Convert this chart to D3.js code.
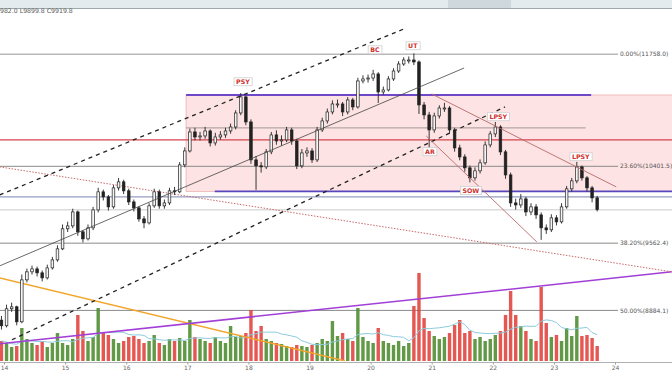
<!DOCTYPE html>
<html lang='en'>
  <head>
    <style type='text/css'>
      body {margin: 0; background-color: #fff;}
      #chart {width: 672px; height: 372px; overflow: hidden;}
      text {font-family: 'DejaVu Sans', sans-serif;}
    </style>
  </head>
  <body>
    <div id='chart'><svg width='672' height='372'></svg></div>

    <script src='https://cdn.jsdelivr.net/npm/d3@7'></script>
    <script type='text/javascript'>
      // 2h candles, first one opens on the 13th at 23:00
      var firstCandle = 13 + 23 / 24;
      var candleStep = 2 / 24;
      var firstOpen = 8790;

      var closes = [
        8736, 8900, 8919, 8774, 9186, 9267, 9297, 9257, 9206, 9307,
        9389, 9503, 9714, 9745, 9895, 9682, 9608, 9724, 9917, 10115,
        10059, 9950, 10159, 10226, 10126, 10004, 9939, 9820, 9777, 9961,
        10115, 9961, 9993, 10126, 10115, 10418, 10578, 10800, 10741, 10753,
        10812, 10671, 10741, 10765, 10812, 10859, 11027, 11222, 10919, 10475,
        10407, 10395, 10567, 10765, 10694, 10706, 10824, 10694, 10407, 10555,
        10578, 10475, 10824, 10931, 11039, 11136, 11136, 11039, 11185, 11100,
        11420, 11445, 11457, 11508, 11283, 11308, 11445, 11545, 11634, 11685,
        11685, 11660, 11124, 11003, 10824, 10991, 11087, 11087, 10824, 10613,
        10509, 10384, 10271, 10350, 10441, 10648, 10777, 10859, 10567, 10304,
        9993, 9971, 10037, 9895, 9950, 9863, 9724, 9703, 9831, 9788,
        9950, 10148, 10237, 10395, 10271, 10159, 10048, 9920
      ];
      var highs = [
        8830, 8940, 8960, 8930, 9240, 9300, 9330, 9320, 9280, 9340,
        9420, 9540, 9760, 9790, 9930, 9910, 9700, 9760, 9950, 10160,
        10140, 10080, 10190, 10270, 10250, 10150, 10030, 9960, 9850, 9990,
        10150, 10140, 10030, 10160, 10170, 10450, 10620, 10840, 10850, 10800,
        10860, 10830, 10790, 10810, 10850, 10900, 11060, 11270, 11240, 10950,
        10520, 10450, 10600, 10800, 10820, 10760, 10860, 10850, 10720, 10600,
        10620, 10610, 10860, 10970, 11080, 11180, 11190, 11160, 11220, 11210,
        11460, 11490, 11500, 11560, 11530, 11350, 11480, 11580, 11670, 11720,
        11730, 11770, 11680, 11160, 11040, 11030, 11120, 11150, 11110, 10850,
        10650, 10540, 10410, 10390, 10480, 10690, 10810, 10919, 10880, 10590,
        10330, 10040, 10090, 10060, 9990, 9980, 9890, 9760, 9870, 9860,
        9990, 10180, 10270, 10452, 10410, 10290, 10180, 10070
      ];
      var lows = [
        8700, 8720, 8870, 8740, 8760, 9160, 9240, 9220, 9170, 9190,
        9290, 9370, 9490, 9680, 9720, 9640, 9570, 9590, 9700, 9890,
        10020, 9910, 9930, 10130, 10090, 9970, 9900, 9790, 9720, 9760,
        9940, 9930, 9930, 9970, 10080, 10100, 10390, 10560, 10700, 10700,
        10720, 10630, 10640, 10710, 10730, 10780, 10830, 11000, 10880, 10430,
        10137, 10330, 10370, 10540, 10650, 10640, 10680, 10650, 10370, 10380,
        10510, 10440, 10450, 10800, 10900, 11010, 11090, 10990, 11010, 11060,
        11080, 11390, 11400, 11420, 11148, 11250, 11290, 11420, 11520, 11610,
        11640, 11620, 11015, 10950, 10613, 10790, 10960, 11040, 10780, 10570,
        10470, 10340, 10220, 10240, 10320, 10420, 10620, 10740, 10530, 10260,
        9950, 9920, 9940, 9850, 9860, 9820, 9597, 9660, 9680, 9750,
        9770, 9930, 10120, 10210, 10240, 10120, 10000, 9900
      ];
      var volumes = [
        1000, 900, 700, 750, 1650, 1100, 900, 800, 1000, 700,
        900, 1400, 900, 800, 1100, 2300, 1500, 1000, 1200, 2650,
        1400, 1300, 1100, 900, 1000, 1200, 1250, 1100, 900, 1000,
        1300, 900, 800, 1100, 1000, 1150, 1000, 2050, 1200, 1100,
        1000, 900, 1200, 1000, 900, 1750, 1200, 1250, 1400, 2550,
        1500, 1750, 1100, 1000, 900, 850, 750, 700, 800, 750,
        700, 800, 900, 1100, 1000, 2000, 1250, 1400, 1100, 1000,
        2650, 1200, 1000, 900, 1650, 1000, 900, 800, 1000, 750,
        900, 2750, 4400, 2150, 1500, 1250, 1100, 1200, 1400, 1800,
        2050, 1400, 1500, 1100, 1200, 1000, 1100, 1300, 1500, 2300,
        3500, 2300, 1750, 1500, 1100, 1000, 3700, 1900, 1200, 1300,
        1000, 1650, 1250, 2250, 1250, 1300, 1150, 750
      ];

      var dayTicks = [14, 15, 16, 17, 18, 19, 20, 21, 22, 23, 24];
      var fibNames = ['0.00%', '23.60%', '38.20%', '50.00%'];
      var fibPrices = [11758.0, 10401.5, 9562.4, 8884.1];

      // horizontal levels
      var rangeTop = 11246, rangeBottom = 10120, rangeMid = 10848;
      var redLevel = 10706, blueLevel = 10059, lastPrice = 9919.8;

      // drawn lines, [day, price] end points
      var upperDash = [[13.93, 10081], [20.58, 12101]];
      var lowerDash = [[14.13, 8603], [22.20, 11100]];
      var supportLine = [[13.93, 9328], [21.53, 11583]];
      var redDotted = [[13.93, 10395], [24.93, 9267]];
      var purpleTrend = [[13.93, 8565], [24.93, 9267]];
      var orangeTrend = [[13.93, 9206], [19.58, 8406]];
      var lpsyLine = [[21.00, 11259], [24.02, 10170]];
      var sowLine = [[20.91, 10753], [22.72, 9576]];

      var waveLabels = ['PSY', 'BC', 'UT', 'LPSY', 'AR', 'SOW', 'LPSY'];
      var waveDays = [17.91, 20.07, 20.69, 22.09, 20.97, 21.64, 23.44];
      var wavePrices = [11407, 11813, 11865, 10979, 10567, 10126, 10509];

      var width = 672, height = 372;
      var svg = d3.select('#chart svg');

      var x = d3.scaleLinear().domain([14, 24]).range([4, 615]);
      var y = d3.scaleLog().domain([8884.1, 11758]).range([310.4, 54.3]);
      var vy = d3.scaleLinear().domain([0, 5000]).range([361, 261]);

      var candles = closes.map(function(c, i) {
        return {t: firstCandle + i * candleStep, o: i ? closes[i - 1] : firstOpen,
                h: highs[i], l: lows[i], c: c, v: volumes[i]};
      });

      svg.append('defs').append('clipPath').attr('id', 'plot')
        .append('rect').attr('x', 0).attr('y', 9).attr('width', width).attr('height', 352);

      // header strip
      svg.append('rect').attr('width', width).attr('height', 8).style('fill', '#e3ebee');
      svg.append('rect').attr('x', 448).attr('width', 63).attr('height', 8).style('fill', '#cfd8dc');
      svg.append('line').attr('x1', 0).attr('x2', width).attr('y1', 8.5).attr('y2', 8.5)
        .style('stroke', '#9ea8ac');
      svg.append('text').attr('x', 0).attr('y', 12.8)
        .attr('font-size', 6.2).style('fill', '#555')
        .text('982.0 L9899.8 C9919.8');

      var g = svg.append('g').attr('clip-path', 'url(#plot)');

      // trading range box
      g.append('rect')
        .attr('x', x(16.98)).attr('y', y(rangeTop))
        .attr('width', width - x(16.98) + 5).attr('height', y(rangeBottom) - y(rangeTop))
        .style('fill', '#fde3e3').style('stroke', '#eeb0b0').style('stroke-width', 0.8);

      function hline(price, d0, d1, color, w) {
        g.append('line')
          .attr('x1', d0 == null ? 0 : x(d0)).attr('x2', d1 == null ? width : x(d1))
          .attr('y1', y(price)).attr('y2', y(price))
          .style('stroke', color).style('stroke-width', w);
      }

      hline(lastPrice, null, null, '#dcdcdc', 1.5);
      hline(blueLevel, null, null, '#6c76a6', 0.9);
      hline(redLevel, null, null, '#d4454c', 1.2);
      hline(rangeMid, 16.98, 23.52, '#9a9090', 0.9);

      // fib levels
      fibPrices.forEach(function(p, i) {
        hline(p, null, 24.05, i == 0 ? '#b8b8b8' : '#8a8a8a', i == 0 ? 1.4 : 1);
        g.append('text')
          .attr('x', x(24.08)).attr('y', y(p)).attr('dy', '0.35em')
          .attr('font-size', 6).style('fill', '#555')
          .text(fibNames[i] + '(' + p.toFixed(1) + ')');
      });

      hline(rangeTop, 16.98, 23.61, '#6f48c9', 1.8);
      hline(rangeBottom, 17.45, null, '#5846bd', 1.8);

      // volume
      g.selectAll('rect.vol').data(candles).enter().append('rect')
        .attr('class', 'vol')
        .attr('x', function(d) { return x(d.t) - 1.7; })
        .attr('y', function(d) { return vy(d.v); })
        .attr('width', 3.4)
        .attr('height', function(d) { return vy(0) - vy(d.v); })
        .style('fill', function(d) { return d.c >= d.o ? '#4b8b2c' : '#e0403a'; })
        .style('opacity', 0.88);

      var ma = candles.map(function(d, i) {
        var s = candles.slice(Math.max(0, i - 9), i + 1);
        return {t: d.t, v: d3.mean(s, function(e) { return e.v; })};
      });
      g.append('path').datum(ma)
        .attr('d', d3.line().x(function(d) { return x(d.t); }).y(function(d) { return vy(d.v); }))
        .style('fill', 'none').style('stroke', '#8ccbdc').style('stroke-width', 1);

      function segment(pts, color, w, dash) {
        g.append('line')
          .attr('x1', x(pts[0][0])).attr('y1', y(pts[0][1]))
          .attr('x2', x(pts[1][0])).attr('y2', y(pts[1][1]))
          .style('stroke', color).style('stroke-width', w)
          .style('stroke-dasharray', dash || null);
      }

      segment(orangeTrend, '#f2a52a', 1.5);
      segment(purpleTrend, '#a23fd6', 1.5);
      segment(redDotted, '#c86a6a', 1, '1.5,1.5');

      // candles
      var c = g.selectAll('g.candle').data(candles).enter().append('g').attr('class', 'candle');
      c.append('line')
        .attr('x1', function(d) { return x(d.t); })
        .attr('x2', function(d) { return x(d.t); })
        .attr('y1', function(d) { return y(d.h); })
        .attr('y2', function(d) { return y(d.l); })
        .style('stroke', '#222').style('stroke-width', 0.9);
      c.append('rect')
        .attr('x', function(d) { return x(d.t) - 1.3; })
        .attr('y', function(d) { return y(Math.max(d.o, d.c)); })
        .attr('width', 2.6)
        .attr('height', function(d) { return Math.max(1, Math.abs(y(d.o) - y(d.c))); })
        .style('fill', function(d) { return d.c >= d.o ? '#f4f4f4' : '#222'; })
        .style('stroke', '#222').style('stroke-width', 0.7);

      segment(upperDash, '#222', 1.3, '4,4');
      segment(lowerDash, '#222', 1.3, '4,4');
      segment(supportLine, '#444', 0.8);
      segment(lpsyLine, '#b86a6a', 0.9);
      segment(sowLine, '#b86a6a', 0.9);

      // wyckoff labels
      var lab = g.selectAll('g.lab').data(waveLabels).enter().append('g').attr('class', 'lab')
        .attr('transform', function(d, i) {
          return 'translate(' + x(waveDays[i]) + ',' + y(wavePrices[i]) + ')';
        });
      lab.append('text')
        .attr('text-anchor', 'middle').attr('dy', '0.36em')
        .attr('font-size', 6.3).attr('font-weight', 'bold')
        .style('fill', '#d0302c')
        .text(function(d) { return d; });
      lab.insert('rect', 'text')
        .each(function() {
          var b = this.parentNode.querySelector('text').getBBox();
          d3.select(this).attr('x', b.x - 2).attr('y', b.y - 0.5)
            .attr('width', b.width + 4).attr('height', b.height + 1);
        })
        .style('fill', '#fff').style('stroke', '#cfcfcf').style('stroke-width', 0.8);

      // time axis
      svg.append('line').attr('x1', 0).attr('x2', width).attr('y1', 362.5).attr('y2', 362.5)
        .style('stroke', '#b0b0b0');
      var axis = svg.append('g').attr('transform', 'translate(0,362.5)')
        .call(d3.axisBottom(x).tickValues(dayTicks).tickSize(2).tickPadding(1));
      axis.select('.domain').remove();
      axis.selectAll('line').style('stroke', '#999');
      axis.selectAll('text').attr('font-size', 6).style('fill', '#666')
        .style('font-family', "'DejaVu Sans', sans-serif");
    </script>
  </body>
</html>
